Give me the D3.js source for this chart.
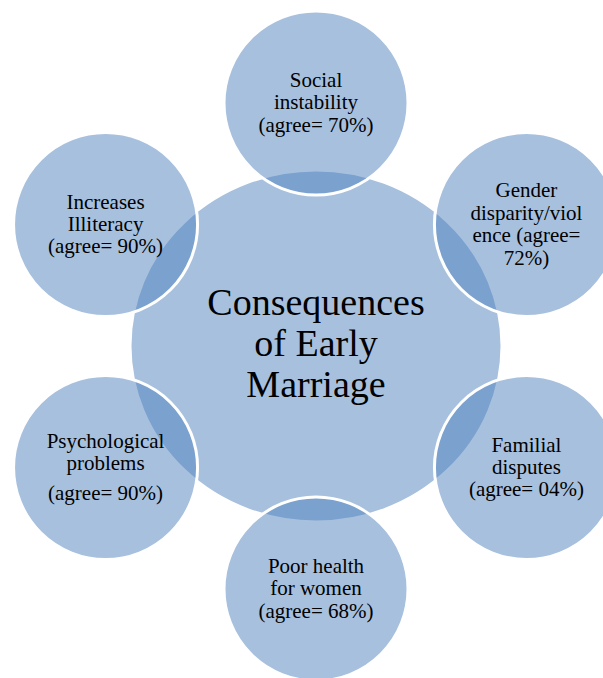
<!DOCTYPE html>
<html>
<head>
<meta charset="utf-8">
<script src="https://cdn.jsdelivr.net/npm/d3@7"></script>
<style>
  html, body { margin: 0; padding: 0; background: #ffffff; }
  #chart { position: relative; width: 603px; height: 678px; overflow: hidden; }
  #chart svg { position: absolute; left: 0; top: 0; display: block; }
  .lbl { position: absolute; white-space: nowrap; line-height: 1; color: #000;
         font-family: "Liberation Serif", Tinos, "Times New Roman", serif; }
</style>
</head>
<body>
<div id="chart"></div>
<script>
// ---- Data ----
const centerTitle = ["Consequences", "of Early", "Marriage"];
const categories = [
  "Social instability",
  "Gender disparity/violence",
  "Familial disputes",
  "Poor health for women",
  "Psychological problems",
  "Increases Illiteracy"
];
const agreeValues = [70, 72, 4, 68, 90, 90];
const labelLines = [
  ["Social", "instability", "(agree= 70%)"],
  ["Gender", "disparity/viol", "ence (agree=", "72%)"],
  ["Familial", "disputes", "(agree= 04%)"],
  ["Poor health", "for women", "(agree= 68%)"],
  ["Psychological", "problems", "(agree= 90%)"],
  ["Increases", "Illiteracy", "(agree= 90%)"]
];

// ---- Layout ----
const W = 603, H = 678;
const cx = 316, cy = 346;
const centerRx = 186, centerRy = 176;
const orbitR = 243;
const satR = 92;
const fill = "rgba(79,129,189,0.5)";
const satFont = 21, satLine = 22.4;
const extraGap = {4: [0, 0, 8]}; // extra space before a line (Psychological)
const ASC = 0.8375; // baseline offset inside a line-height:1 box (Liberation Serif)

const chart = d3.select("#chart");
const svg = chart.append("svg").attr("width", W).attr("height", H);

// angle scale: index -> angle (clockwise from top)
const angle = d3.scaleLinear().domain([0, categories.length]).range([0, 2 * Math.PI]);
const nodes = categories.map((c, i) => ({
  name: c,
  value: agreeValues[i],
  lines: labelLines[i],
  i,
  x: cx + orbitR * Math.sin(angle(i)),
  y: cy - orbitR * Math.cos(angle(i))
}));

// central ellipse
svg.append("ellipse")
  .attr("cx", cx).attr("cy", cy)
  .attr("rx", centerRx).attr("ry", centerRy)
  .attr("fill", fill)
  .attr("stroke", "#ffffff").attr("stroke-width", 3);

// satellites
svg.selectAll("circle.sat").data(nodes).join("circle").attr("class", "sat")
  .attr("cx", d => d.x).attr("cy", d => d.y).attr("r", satR)
  .attr("fill", fill)
  .attr("stroke", "#ffffff").attr("stroke-width", 3);

// text as HTML labels (baseline-positioned, centered)
const textItems = [];
centerTitle.forEach((t, k) => {
  textItems.push({ text: t, x: cx, y: cy + 10 + (k - (centerTitle.length - 1) / 2) * 41, size: 38 });
});
nodes.forEach(d => {
  const n = d.lines.length;
  const gaps = extraGap[d.i] || d.lines.map(() => 0);
  const totalGap = d3.sum(gaps);
  let acc = 0;
  d.lines.forEach((line, k) => {
    acc += gaps[k] || 0;
    textItems.push({ text: line, x: d.x, y: d.y + 7 + (k - (n - 1) / 2) * satLine + acc - totalGap / 2, size: satFont });
  });
});

chart.selectAll("div.lbl").data(textItems).join("div").attr("class", "lbl")
  .style("font-size", d => d.size + "px")
  .style("left", d => d.x + "px")
  .style("top", d => (d.y - ASC * d.size) + "px")
  .style("transform", "translateX(-50%)")
  .text(d => d.text);
</script>
</body>
</html>
